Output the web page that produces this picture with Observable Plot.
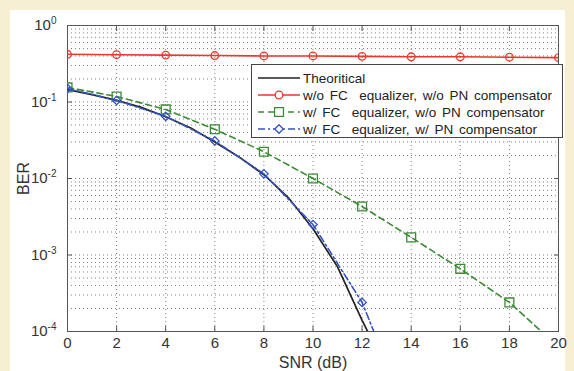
<!DOCTYPE html>
<html><head><meta charset="utf-8">
<script src="https://cdn.jsdelivr.net/npm/d3@7"></script>
<script src="https://cdn.jsdelivr.net/npm/@observablehq/plot@0.6"></script>
<style>
html,body{margin:0;padding:0;background:#f7efd3;}
#wrap{position:relative;width:574px;height:371px;overflow:hidden;}
#paper{position:absolute;left:10px;top:10px;width:555px;height:361px;background:#fff;}
#chart{position:absolute;left:0;top:0;}
#legend{position:absolute;left:251px;top:64px;width:312px;height:74px;box-sizing:border-box;border:1px solid #444;background:#fff;}
#legend svg{position:absolute;left:-1px;top:-1px;}
</style></head>
<body>
<div id="wrap"><div id="paper"></div><div id="chart"></div><div id="legend"></div></div>
<script>
// ---- data ----
const xTicks = [0,2,4,6,8,10,12,14,16,18,20];
const yTicks = [1e-4,1e-3,1e-2,1e-1,1];

const theorySNR = [0,1,2,3,4,5,6,7,8,9,10,11,12,12.3];
const theoryBER = [0.145,0.125,0.105,0.085,0.064,0.046,0.030,0.019,0.0112,0.0056,0.0022,0.0007,0.00014,0.00009];

const redSNR = [0,2,4,6,8,10,12,14,16,18,20];
const redBER = [0.42,0.415,0.41,0.405,0.40,0.40,0.395,0.39,0.39,0.385,0.38];

const greenSNR = [0,2,4,6,8,10,12,14,16,18,20];
const greenBER = [0.155,0.118,0.080,0.044,0.0224,0.0100,0.0043,0.0017,0.00066,0.00024,0.000063];

const blueSNR = [0,2,4,6,8,10,12,12.6];
const blueBER = [0.15,0.105,0.065,0.031,0.0115,0.0025,0.00024,0.00008];
const blueMarkerSNR = [0,2,4,6,8,10,12];

const legendLabels = ["Theoritical","w/o FC  equalizer, w/o PN compensator","w/ FC  equalizer, w/o PN compensator","w/ FC  equalizer, w/ PN compensator"];

// ---- styles ----
const cBlack = "#222", cRed = "#e8392c", cGreen = "#3c8a35", cBlue = "#3553c4";
const font = "'Liberation Sans', Arial, sans-serif";

const rows = (xs, ys) => xs.map((x,i) => ({x, y: ys[i]}));
const theory = rows(theorySNR, theoryBER);
const red = rows(redSNR, redBER);
const green = rows(greenSNR, greenBER);
const blue = rows(blueSNR, blueBER);
const blueMarks = blue.filter(d => blueMarkerSNR.includes(d.x));

const yGrid = [];
for (let e = -4; e < 0; e++) for (let m = 1; m <= 9; m++) yGrid.push(m * Math.pow(10, e));
yGrid.push(1);

const grid = {stroke: "#808080", strokeOpacity: 1, strokeDasharray: "1,3", strokeWidth: 1};

const plot = Plot.plot({
  width: 574, height: 371,
  marginLeft: 67, marginRight: 16, marginTop: 25, marginBottom: 40,
  style: {background: "transparent", fontFamily: font, fontSize: "15px", color: "#333"},
  x: {domain: [0,20], label: null},
  y: {type: "log", domain: [1e-4, 1], label: null},
  marks: [
    Plot.gridX(xTicks, grid),
    Plot.gridY(yGrid, grid),
    Plot.frame({stroke: "#555", strokeWidth: 1}),
    Plot.axisX(xTicks, {tickSize: 0, tickPadding: 6, tickFormat: d => d, label: null, fontSize: 15}),
    Plot.axisX({ticks: [], label: "SNR (dB)", labelAnchor: "center", labelOffset: 36, labelArrow: "none", fontSize: 16}),
    Plot.axisX(xTicks, {tickSize: -5, tickFormat: () => "", label: null, stroke: "#555"}),
    Plot.axisX(xTicks, {anchor: "top", tickSize: -5, tickFormat: () => "", label: null, stroke: "#555"}),
    Plot.axisY(yTicks, {tickSize: 0, tickPadding: 11, tickFormat: d => "10^" + Math.round(Math.log10(d)), label: null, fontSize: 15}),
    Plot.axisY({ticks: [], label: "BER", labelAnchor: "center", labelOffset: 50, labelArrow: "none", fontSize: 16}),
    Plot.axisY(yTicks, {tickSize: -5, tickFormat: () => "", label: null, stroke: "#555"}),
    Plot.axisY(yTicks, {anchor: "right", tickSize: -5, tickFormat: () => "", label: null, stroke: "#555"}),
    Plot.line(theory, {x: "x", y: "y", stroke: cBlack, strokeWidth: 1.7, clip: true}),
    Plot.line(red, {x: "x", y: "y", stroke: cRed, strokeWidth: 1.6, clip: true}),
    Plot.dot(red, {x: "x", y: "y", stroke: cRed, fill: "none", r: 3.8, strokeWidth: 1.3, clip: true}),
    Plot.line(green, {x: "x", y: "y", stroke: cGreen, strokeWidth: 1.6, strokeDasharray: "6,4", clip: true}),
    Plot.dot(green, {x: "x", y: "y", symbol: "square", stroke: cGreen, fill: "none", r: 5, strokeWidth: 1.3, clip: true}),
    Plot.line(blue, {x: "x", y: "y", stroke: cBlue, strokeWidth: 1.6, strokeDasharray: "7,3,2,3", clip: true}),
    Plot.dot(blueMarks, {x: "x", y: "y", symbol: "diamond2", stroke: cBlue, fill: "none", r: 3.8, strokeWidth: 1.3, clip: true})
  ]
});
document.getElementById("chart").appendChild(plot);

// superscript exponents on y tick labels
d3.select(plot).selectAll('g[aria-label="y-axis tick label"] text').each(function() {
  const t = this.textContent;
  if (!t.startsWith("10^")) return;
  const exp = t.slice(3);
  const sel = d3.select(this);
  sel.text(null);
  sel.append("tspan").text("10");
  sel.append("tspan").attr("dy", "-0.6em").attr("font-size", "10px").text(exp);
});

// legend
const lg = d3.select("#legend").append("svg").attr("width", 312).attr("height", 74)
  .style("font-family", font).style("font-size", "13.5px").style("word-spacing", "2px");
const styles = [
  {stroke: cBlack, dash: null, symbol: null},
  {stroke: cRed, dash: null, symbol: "circle"},
  {stroke: cGreen, dash: "6,4", symbol: "square"},
  {stroke: cBlue, dash: "7,3,2,3", symbol: "diamond2"}
];
const rowY = [14, 31, 48, 65];
legendLabels.forEach((lab, i) => {
  const s = styles[i], y = rowY[i];
  lg.append("line").attr("x1", 7).attr("x2", 49).attr("y1", y).attr("y2", y)
    .attr("stroke", s.stroke).attr("stroke-width", 1.6).attr("stroke-dasharray", s.dash);
  if (s.symbol) {
    const sym = {circle: d3.symbolCircle, square: d3.symbolSquare, diamond2: d3.symbolDiamond2}[s.symbol];
    const r = s.symbol === "square" ? 5 : 3.8;
    lg.append("path").attr("d", d3.symbol(sym, r * r * Math.PI)()).attr("transform", `translate(28,${y})`)
      .attr("fill", "white").attr("stroke", s.stroke).attr("stroke-width", 1.3);
  }
  lg.append("text").attr("x", 52).attr("y", y + 5).attr("fill", "#222").style("white-space", "pre").attr("xml:space", "preserve").text(lab);
});
</script>
</body></html>
